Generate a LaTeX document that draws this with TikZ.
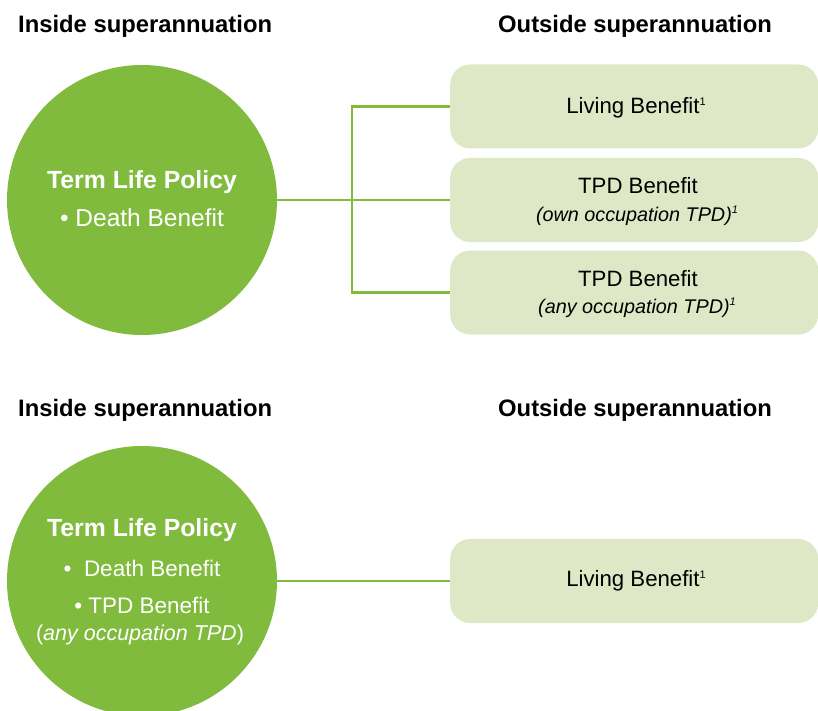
\documentclass[tikz,border=0pt]{standalone}
\usepackage{fontspec}
\setmainfont{Liberation Sans}
\definecolor{leaf}{RGB}{128,187,61}
\definecolor{pale}{RGB}{222,232,199}
\newcommand{\fnmark}{\raisebox{0.75ex}{\fontsize{11}{11}\selectfont 1}}
\begin{document}
\begin{tikzpicture}[x=1pt,y=-1pt,
  heading/.style={font=\fontsize{23.8}{28}\selectfont\bfseries, anchor=base west, inner sep=0},
  policy/.style={circle, fill=leaf, minimum size=270pt, inner sep=0},
  ptext/.style={text=white, inner sep=0, anchor=center},
  benefit/.style={rectangle, rounded corners=20pt, fill=pale, minimum width=368pt, minimum height=84pt, anchor=west, inner sep=0},
  btext/.style={inner sep=0, anchor=center, font=\fontsize{22.2}{26}\selectfont},
  bsub/.style={inner sep=0, anchor=center, font=\fontsize{19.8}{23}\selectfont\itshape},
  link/.style={draw=leaf, line width=2.2pt}]
\useasboundingbox (0,0) rectangle (818,711);
\begin{scope}
\clip (0,0) rectangle (818,711);
% headings
\node[heading] (h1) at (18,33) {Inside superannuation};
\node[heading] (h2) at (498,33) {Outside superannuation};
\node[heading] (h3) at (18,416) {Inside superannuation};
\node[heading] (h4) at (498,416) {Outside superannuation};

% top circle
\node[policy] (c1) at (142,200) {};
\node[ptext, font=\fontsize{24.8}{28}\selectfont\bfseries] (c1a) at (142,182) {Term Life Policy};
\node[ptext, font=\fontsize{24.5}{28}\selectfont] (c1b) at (142,218) {\textbullet\ Death Benefit};

% top boxes
\node[benefit] (b1) at (450,106.5) {};
\node[btext] (b1a) at (636,108) {Living Benefit\fnmark};
\node[benefit] (b2) at (450,200) {};
\node[btext] (b2a) at (638,186) {TPD Benefit};
\node[bsub] (b2b) at (637,216) {(own occupation TPD)\fnmark};
\node[benefit] (b3) at (450,292.5) {};
\node[btext] (b3a) at (638,279) {TPD Benefit};
\node[bsub] (b3b) at (637,308) {(any occupation TPD)\fnmark};

\coordinate (j) at (352,200);
\draw[link] (c1.east) -- (j) -- (b2.west);
\draw[link] (j) |- (b1.west);
\draw[link] (j) |- (b3.west);

% bottom circle
\node[policy] (c2) at (142,581) {};
\node[ptext, font=\fontsize{24.8}{28}\selectfont\bfseries] (c2a) at (142,530) {Term Life Policy};
\node[ptext, font=\fontsize{22.5}{26}\selectfont] (c2b) at (142,568) {\textbullet\ \ Death Benefit};
\node[ptext, font=\fontsize{22.5}{26}\selectfont] (c2c) at (142,605) {\textbullet\ TPD Benefit};
\node[ptext, font=\fontsize{21.5}{25}\selectfont] (c2d) at (140,635) {(\textit{any occupation TPD})};

\node[benefit] (b4) at (450,581) {};
\node[btext] (b4a) at (636,581) {Living Benefit\fnmark};
\draw[link] (c2.east) -- (b4.west);
\end{scope}
\end{tikzpicture}
\end{document}
